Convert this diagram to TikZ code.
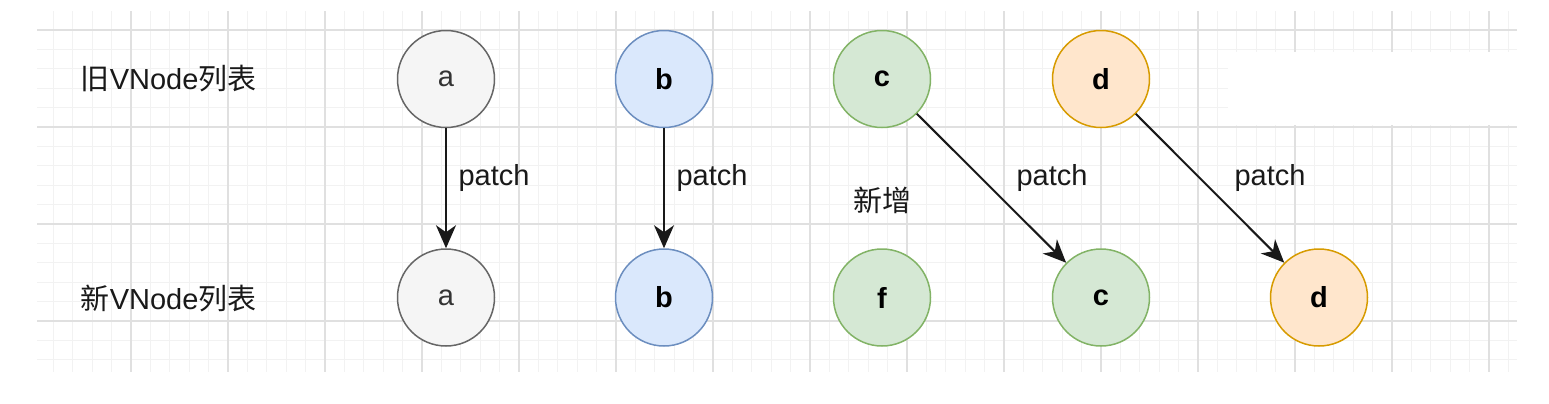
\documentclass[tikz,border=0pt]{standalone}
\usepackage{fontspec}
\setmainfont{Liberation Sans}
\newfontfamily\cjk{Noto Sans CJK SC}
\usetikzlibrary{arrows.meta}
\definecolor{grayfill}{HTML}{F5F5F5}
\definecolor{graystroke}{HTML}{666666}
\definecolor{bluefill}{HTML}{DAE8FC}
\definecolor{bluestroke}{HTML}{6C8EBF}
\definecolor{greenfill}{HTML}{D5E8D4}
\definecolor{greenstroke}{HTML}{82B366}
\definecolor{orangefill}{HTML}{FFE6CC}
\definecolor{orangestroke}{HTML}{D79B00}
\tikzset{every picture/.style={line width=0.75pt}}
\tikzset{minor grid/.style={draw=black!5, line width=0.5pt}}
\tikzset{major grid/.style={draw=black!12, line width=0.75pt}}
\tikzset{vnode/.style={circle, minimum size=48.5pt, inner sep=0pt, font=\fontsize{14.5}{17}\selectfont\bfseries}}
\tikzset{gray vnode/.style={vnode, fill=grayfill, draw=graystroke, text=black!80, font=\fontsize{14.5}{17}\selectfont}}
\tikzset{blue vnode/.style={vnode, fill=bluefill, draw=bluestroke}}
\tikzset{green vnode/.style={vnode, fill=greenfill, draw=greenstroke}}
\tikzset{orange vnode/.style={vnode, fill=orangefill, draw=orangestroke}}
\tikzset{plain text/.style={inner sep=0pt, text=black!90, font=\fontsize{14.5}{17}\selectfont}}
\tikzset{patch edge/.style={-{Stealth[length=11.5pt, width=10pt, inset=3.5pt]}, line width=1pt, black!90}}
\newcommand{\zh}[1]{{\cjk #1}}

\begin{document}
\begin{tikzpicture}[x=0.5pt, y=-0.5pt]
        \useasboundingbox (0,0) rectangle (1549,403);
        \begin{scope}
                \clip (37,11) rectangle (1517,372);
                \foreach \i in {0,...,76} \draw[minor grid] ({34+19.4*\i},11) -- ++(0,361);
                \foreach \j in {0,...,19} \draw[minor grid] (37,{10.6+19.4*\j}) -- ++(1480,0);
                \foreach \i in {0,...,15} \draw[major grid] ({34+97*\i},11) -- ++(0,361);
                \foreach \j in {0,...,3} \draw[major grid] (37,{30+97*\j}) -- ++(1480,0);
        \end{scope}
        \fill[white] (1228,52) rectangle (1517,125);

        \node[plain text, anchor=west] (oldList) at (80,79) {\zh{旧}VNode\zh{列表}};
        \node[plain text, anchor=west] (newList) at (80,298) {\zh{新}VNode\zh{列表}};

        \node[gray vnode] (oldA) at (446,79) {a};
        \node[blue vnode] (oldB) at (664,79) {b};
        \node[green vnode] (oldC) at (882,79) {c};
        \node[orange vnode] (oldD) at (1101,79) {d};
        \node[gray vnode] (newA) at (446,297.5) {a};
        \node[blue vnode] (newB) at (664,297.5) {b};
        \node[green vnode] (newF) at (882,297.5) {f};
        \node[green vnode] (newC) at (1101,297.5) {c};
        \node[orange vnode] (newD) at (1319,297.5) {d};

        \draw[patch edge] (oldA) -- (newA);
        \draw[patch edge] (oldB) -- (newB);
        \draw[patch edge] (oldC) -- (newC);
        \draw[patch edge] (oldD) -- (newD);

        \node[plain text] (patchA) at (494,178) {patch};
        \node[plain text] (patchB) at (712,178) {patch};
        \node[plain text] (patchC) at (1052,178) {patch};
        \node[plain text] (patchD) at (1270,178) {patch};
        \node[plain text] (added) at (882,200) {\zh{新增}};
\end{tikzpicture}
\end{document}
